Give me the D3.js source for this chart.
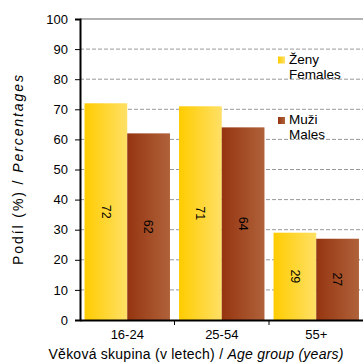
<!DOCTYPE html>
<html>
<head>
<meta charset="utf-8">
<script src="https://cdn.jsdelivr.net/npm/d3@7"></script>
<style>
  body { margin: 0; background: #fff; }
  text { font-family: "Liberation Sans", Arial, sans-serif; }
</style>
</head>
<body>
<svg id="chart" width="363" height="363"></svg>
<script>
// age groups and shares (%)
const groups = ["16-24", "25-54", "55+"];
const females = [72, 71, 29];
const males = [62, 64, 27];
const yTicks = [0, 10, 20, 30, 40, 50, 60, 70, 80, 90, 100];
const seriesNames = [["Ženy", "Females"], ["Muži", "Males"]];

const svg = d3.select("#chart");
const margin = {left: 80, right: 0, top: 19, bottom: 43};
const W = 363, H = 363;

const x = d3.scaleBand().domain(groups).range([margin.left, W - margin.right + 0.5]).paddingInner(0).paddingOuter(0);
const xs = d3.scaleBand().domain([0, 1]).range([0, x.bandwidth()]).paddingOuter(0.106).paddingInner(0);
const y = d3.scaleLinear().domain([0, 100]).range([H - margin.bottom, margin.top]);

const defs = svg.append("defs");
function grad(id, c1, c2) {
  const g = defs.append("linearGradient").attr("id", id).attr("x1", "0%").attr("x2", "100%");
  g.append("stop").attr("offset", "0%").attr("stop-color", c1);
  g.append("stop").attr("offset", "100%").attr("stop-color", c2);
}
grad("gF", "#ffcc00", "#ffe066");
grad("gM", "#953510", "#b0623a");

// gridlines
svg.append("g").selectAll("line").data(yTicks.filter(d => d > 0)).join("line")
  .attr("x1", margin.left).attr("x2", W)
  .attr("y1", d => y(d)).attr("y2", d => y(d))
  .attr("stroke", "#999")
  .attr("stroke-width", d => d === 100 ? 1.3 : 1)
  .attr("stroke-dasharray", d => d === 100 ? null : "4,2");

// bars
const series = [females, males];
const fills = ["url(#gF)", "url(#gM)"];
series.forEach((vals, si) => {
  const g = svg.append("g");
  g.selectAll("rect").data(vals).join("rect")
    .attr("x", (d, i) => x(groups[i]) + xs(si))
    .attr("width", xs.bandwidth())
    .attr("y", d => y(d))
    .attr("height", d => y(0) - y(d))
    .attr("fill", fills[si]);
  g.selectAll("text").data(vals).join("text")
    .attr("transform", (d, i) => `translate(${x(groups[i]) + xs(si) + xs.bandwidth() / 2},${(y(d) + y(0)) / 2}) rotate(90)`)
    .attr("text-anchor", "middle").attr("dy", "0.35em")
    .attr("font-size", 12.5).attr("fill", "#000")
    .text(d => d);
});

// axes
const yAxis = svg.append("g").attr("transform", `translate(${margin.left},0)`)
  .call(d3.axisLeft(y).tickValues(yTicks).tickSize(5).tickPadding(7));
yAxis.select(".domain").attr("stroke", "#000").attr("stroke-width", 2);
yAxis.selectAll(".tick line").attr("stroke", "#000");
yAxis.selectAll(".tick text").attr("font-size", 13).attr("fill", "#000").attr("font-family", "Liberation Sans, Arial, sans-serif");

const xAxis = svg.append("g").attr("transform", `translate(0,${y(0)})`)
  .call(d3.axisBottom(x).tickSize(0).tickPadding(10));
xAxis.select(".domain").attr("stroke", "#000").attr("stroke-width", 2);
xAxis.selectAll(".tick text").attr("font-size", 13).attr("fill", "#000").attr("font-family", "Liberation Sans, Arial, sans-serif");
// category separator ticks
svg.append("g").selectAll("line").data(groups.slice(1)).join("line")
  .attr("x1", d => x(d)).attr("x2", d => x(d))
  .attr("y1", y(0)).attr("y2", y(0) + 5)
  .attr("stroke", "#000");

// axis titles
const yt = svg.append("text")
  .attr("transform", `translate(23,170) rotate(-90)`)
  .attr("text-anchor", "middle").attr("font-size", 14)
  .attr("textLength", 190).attr("lengthAdjust", "spacing");
yt.append("tspan").text("Podíl (%) / ");
yt.append("tspan").attr("font-style", "italic").text("Percentages");

const xt = svg.append("text")
  .attr("x", 196).attr("y", 359)
  .attr("text-anchor", "middle").attr("font-size", 14)
  .attr("textLength", 295).attr("lengthAdjust", "spacing");
xt.append("tspan").text("Věková skupina (v letech) / ");
xt.append("tspan").attr("font-style", "italic").text("Age group (years)");

// legend
const legY = [63.5, 124];
seriesNames.forEach((nm, i) => {
  const lg = svg.append("g").attr("transform", `translate(278,${legY[i]})`);
  lg.append("rect").attr("x", 0).attr("y", -7).attr("width", 7).attr("height", 7).attr("fill", fills[i]);
  lg.append("text").attr("x", 11).attr("y", 0).attr("font-size", 13.5).text(nm[0]);
  lg.append("text").attr("x", 11).attr("y", 15).attr("font-size", 13.5).text(nm[1]);
});
</script>
</body>
</html>
